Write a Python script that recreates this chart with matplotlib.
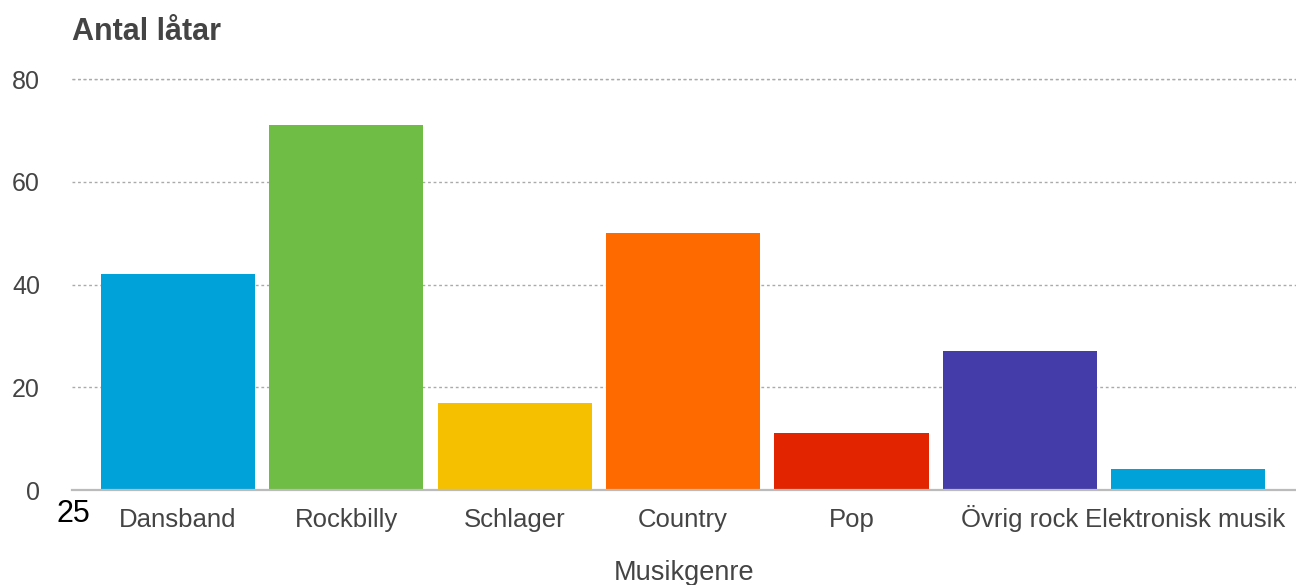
import matplotlib.pyplot as plt
import matplotlib.transforms as mtransforms

# antal låtar per musikgenre
genres = ["Dansband", "Rockbilly", "Schlager", "Country", "Pop", "Övrig rock", "Elektronisk musik"]
counts = [42, 71, 17, 50, 11, 27, 4]
colors = ["#00a3d9", "#70bd45", "#f5c000", "#ff6a00", "#e22400", "#443ca8", "#00a3d9"]
yticks = [0, 20, 40, 60, 80]

plt.rcParams['font.family'] = ['Liberation Sans', 'DejaVu Sans']

fig = plt.figure(figsize=(12.96, 5.85), dpi=100)
ax = fig.add_axes([72/1296, 95/585, 1 - 72/1296, (490 - 79)/585])

x = list(range(len(genres)))
ax.bar(x, counts, width=0.915, color=colors, zorder=3)

ax.set_xlim(-0.63, 6.64)
ax.set_ylim(0, 80)
ax.set_yticks(yticks)
ax.set_xticks(x)
ax.set_xticklabels(genres)
ax.tick_params(axis='y', length=0, pad=23, labelsize=18, labelcolor='#444444')
ax.tick_params(axis='x', length=0, pad=26.5, labelsize=18.5, labelcolor='#444444')
for lbl in ax.get_xticklabels():
    lbl.set_va('baseline')
# last label is nudged left so it stays inside the figure
last = ax.get_xticklabels()[-1]
last.set_transform(last.get_transform() + mtransforms.ScaledTranslation(-3/100, 0, fig.dpi_scale_trans))

ax.grid(axis='y', color='#aaaaaa', linestyle=(0, (2, 2)), linewidth=1, zorder=0)
ax.grid(axis='x', visible=False)
for s in ['top', 'right', 'left']:
    ax.spines[s].set_visible(False)
ax.spines['bottom'].set_color('#bbbbbb')
ax.spines['bottom'].set_linewidth(1.6)
ax.spines['bottom'].set_zorder(4)

ax.axhline(80, color='#aaaaaa', linestyle=(0, (2, 2)), linewidth=1, zorder=0, clip_on=False)

fig.text(72/1296, 1 - 40/585, "Antal låtar", fontsize=22, fontweight='bold',
         color='#444444', ha='left', va='baseline')
fig.text(684/1296, 1 - 573/585, "Musikgenre", fontsize=19.5, color='#444444',
         ha='center', va='center')
fig.text(73/1296, 1 - 514/585, "25", fontsize=22, color='black', ha='center', va='center')

fig.savefig("out.png", dpi=100)
